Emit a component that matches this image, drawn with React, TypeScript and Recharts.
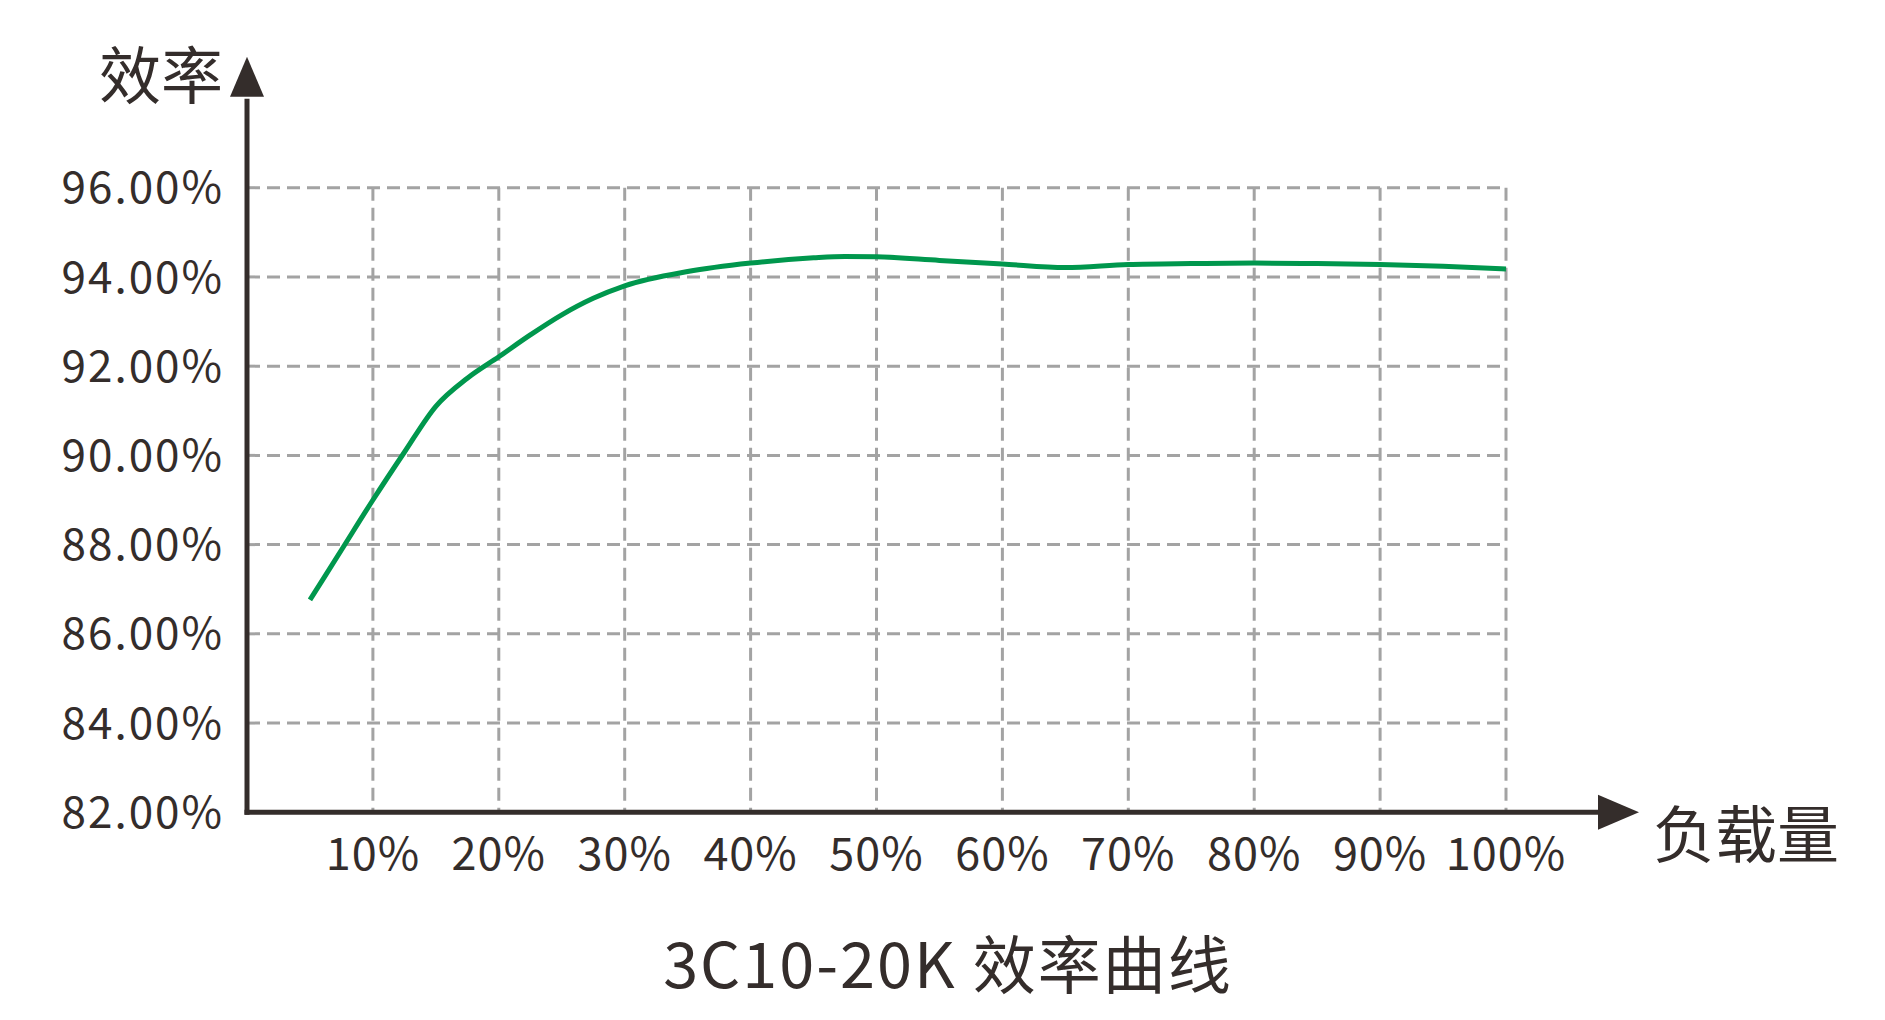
import React from 'react';
import { LineChart, Line, XAxis, YAxis, CartesianGrid, ReferenceLine, Customized } from 'recharts';

const loads = [5, 7.5, 10, 12.5, 15, 17.5, 20, 22.5, 25, 27.5, 30, 35, 40, 45, 47.5, 50, 55, 60, 65, 70, 75, 80, 85, 90, 95, 100];
const efficiency = [86.76, 87.88, 89.0, 90.07, 91.1, 91.73, 92.21, 92.7, 93.15, 93.52, 93.8, 94.12, 94.31, 94.43, 94.46, 94.45, 94.37, 94.29, 94.21, 94.28, 94.3, 94.31, 94.3, 94.28, 94.24, 94.18];
const xTicks = [10, 20, 30, 40, 50, 60, 70, 80, 90, 100];
const yTicks = [82, 84, 86, 88, 90, 92, 94, 96];
const yAxisTitle = '效率';
const xAxisTitle = '负载量';
const chartTitle = '3C10-20K 效率曲线';

const data = loads.map((load, i) => ({ load, eff: efficiency[i] }));

const FONT = '"Noto Sans CJK SC", "Noto Sans", sans-serif';
const INK = '#342d2b';
const GREEN = '#00974d';
const GRID = '#a3a3a3';

const YAxisArrow = (p: any) => {
  const x = p.x1;
  const top = Math.min(p.y1, p.y2);
  const bottom = Math.max(p.y1, p.y2);
  const tip = top - 131;
  const base = tip + 40;
  return (
    <g>
      <line x1={x} y1={bottom + 2.5} x2={x} y2={base + 2} stroke={INK} strokeWidth={5} />
      <polygon points={`${x},${tip} ${x - 17},${base} ${x + 17},${base}`} fill={INK} />
    </g>
  );
};

const XAxisArrow = (p: any) => {
  const y = p.y1;
  const left = Math.min(p.x1, p.x2);
  const right = Math.max(p.x1, p.x2);
  const tip = right + 133;
  const base = tip - 41;
  return (
    <g>
      <line x1={left - 2.5} y1={y} x2={base + 2} y2={y} stroke={INK} strokeWidth={5} />
      <polygon points={`${tip},${y} ${base},${y - 17.5} ${base},${y + 17.5}`} fill={INK} />
    </g>
  );
};

const YTitle = (props: any) => {
  const vb = props.viewBox;
  return (
    <text x={vb.x + vb.width - 24} y={vb.y - 116} textAnchor="end" dominantBaseline="central" fontFamily={FONT} fontSize={62} fill={INK}>
      {yAxisTitle}
    </text>
  );
};

const XTitle = (props: any) => {
  const vb = props.viewBox;
  return (
    <text x={vb.x + vb.width + 147} y={vb.y + 19} textAnchor="start" dominantBaseline="central" fontFamily={FONT} fontSize={62} fill={INK}>
      {xAxisTitle}
    </text>
  );
};

const Title = () => (
  <text x={948} y={988} textAnchor="middle" fontFamily={FONT} fontSize={63} fill={INK} letterSpacing={2}>
    {chartTitle}
  </text>
);

export default function App() {
  return (
    <div style={{ position: 'absolute', left: 0, top: 0, width: 1885, height: 1020, background: '#ffffff' }}>
      <LineChart
        width={1885}
        height={1020}
        data={data}
        margin={{ top: 187.7, right: 379, bottom: 147.7, left: 47 }}
      >
        <CartesianGrid stroke={GRID} strokeWidth={3} strokeDasharray="13 7" />
        <XAxis
          dataKey="load"
          type="number"
          domain={[0, 100]}
          ticks={xTicks}
          tickFormatter={(v: number) => `${v}%`}
          axisLine={false}
          tickLine={false}
          tickSize={0}
          tickMargin={26}
          height={60}
          tick={{ fontFamily: FONT, fontSize: 45, fill: INK, letterSpacing: 1 }}
          label={<XTitle />}
        />
        <YAxis
          type="number"
          domain={[82, 96]}
          ticks={yTicks}
          tickFormatter={(v: number) => `${v.toFixed(2)}%`}
          axisLine={false}
          tickLine={false}
          tickSize={0}
          tickMargin={23}
          width={200}
          tick={{ fontFamily: FONT, fontSize: 44, fill: INK, letterSpacing: 2 }}
          label={<YTitle />}
        />
        <Line
          type="monotone"
          dataKey="eff"
          stroke={GREEN}
          strokeWidth={5}
          dot={false}
          activeDot={false}
          isAnimationActive={false}
        />
        <ReferenceLine x={0} shape={YAxisArrow} />
        <ReferenceLine y={82} shape={XAxisArrow} />
        <Customized component={Title} />
      </LineChart>
    </div>
  );
}
